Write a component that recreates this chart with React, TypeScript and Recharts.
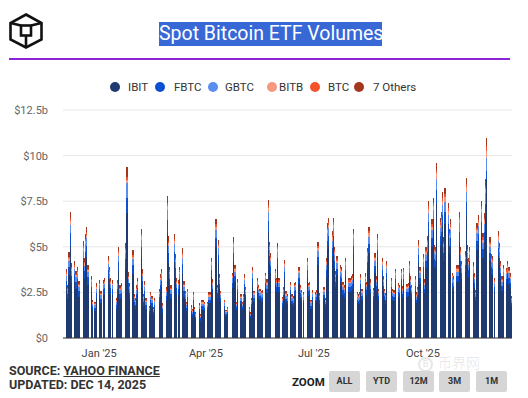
import { BarChart, Bar, XAxis, YAxis, CartesianGrid } from 'recharts';

// daily volumes in $b, one value per trading day (Dec 2 2024 .. Dec 12 2025)
const ibit = [
  2.77, 2.12, 3.43, 5.04, 2.99, 3.07, 2.70, 2.85, 2.26, 2.26,
  3.87, 3.21, 4.16, 4.45, 2.92, 2.48, 1.53, 1.46, 2.19, 2.34,
  1.90, 2.34, 2.41, 3.29, 2.85, 2.41, 2.34, 1.61, 2.34, 3.65,
  2.12, 2.19, 3.80, 6.86, 2.63, 2.19, 3.50, 1.75, 1.61, 2.12,
  2.41, 4.38, 2.74, 1.75, 2.26, 1.61, 1.28, 1.83, 1.68, 1.24,
  1.61, 1.97, 2.56, 2.77, 1.39, 2.04, 5.69, 4.09, 2.85, 2.12,
  4.16, 3.36, 2.41, 2.34, 2.85, 3.58, 2.26, 1.90, 1.46, 1.97,
  1.31, 1.17, 1.83, 1.24, 1.02, 1.39, 0.95, 1.53, 1.53, 1.46,
  1.53, 1.91, 1.91, 3.37, 2.45, 4.97, 2.22, 4.13, 2.68, 1.99,
  1.61, 1.19, 1.19, 1.30, 2.75, 4.21, 3.06, 1.53, 2.45, 1.84,
  1.53, 1.84, 2.68, 2.14, 1.30, 1.07, 1.68, 2.98, 1.99, 2.52,
  2.22, 2.07, 1.99, 2.03, 2.75, 2.45, 5.81, 4.05, 3.56, 2.91,
  2.52, 3.98, 2.52, 1.72, 2.14, 3.29, 1.95, 1.84, 2.37, 1.84,
  1.76, 2.33, 2.37, 2.98, 2.22, 2.03, 1.91, 3.37, 2.33, 2.37,
  1.61, 2.03, 1.91, 2.03, 4.02, 1.87, 2.14, 1.68, 3.37, 4.82,
  5.05, 4.48, 5.05, 3.83, 2.79, 3.44, 3.06, 2.98, 2.37, 2.22,
  3.37, 2.52, 2.52, 2.60, 2.68, 4.59, 1.91, 1.84, 1.91, 2.68,
  2.07, 2.72, 2.37, 3.79, 4.67, 2.45, 2.10, 3.56, 2.60, 4.36,
  2.07, 3.37, 2.60, 2.07, 1.87, 3.21, 2.52, 2.07, 2.03, 2.91,
  2.30, 2.22, 2.91, 2.18, 2.95, 2.26, 2.30, 3.21, 2.60, 2.22,
  2.60, 1.91, 2.14, 4.13, 2.98, 3.52, 2.45, 3.83, 4.28, 5.74,
  4.97, 5.89, 3.90, 3.83, 7.34, 5.05, 5.28, 6.12, 4.21, 6.27,
  5.66, 4.59, 4.97, 2.75, 2.60, 3.06, 3.06, 5.28, 3.83, 3.21,
  3.63, 6.73, 3.90, 3.37, 3.83, 3.17, 2.72, 2.03, 4.82, 5.16,
  5.74, 4.40, 5.24, 6.66, 8.68, 4.21, 3.52, 3.44, 2.52, 4.48,
  3.98, 3.21, 2.60, 3.06, 2.95, 3.21, 2.98, 2.72, 1.76,
];
const fbtc = [
  .38, .29, .47, .69, .41, .42, .37, .39, .31, .31,
  .53, .44, .57, .61, .40, .34, .21, .20, .30, .32,
  .26, .32, .33, .45, .39, .33, .32, .22, .32, .50,
  .29, .30, .52, .82, .36, .30, .48, .24, .22, .29,
  .33, .60, .38, .24, .31, .22, .18, .25, .23, .17,
  .22, .27, .35, .38, .19, .28, .78, .56, .39, .29,
  .57, .46, .33, .32, .39, .49, .31, .26, .20, .27,
  .18, .16, .25, .17, .14, .19, .13, .21, .21, .20,
  .16, .20, .20, .35, .26, .52, .23, .43, .28, .21,
  .17, .12, .12, .14, .29, .44, .32, .16, .26, .19,
  .16, .19, .28, .22, .14, .11, .18, .31, .21, .26,
  .23, .22, .21, .21, .29, .26, .61, .42, .37, .30,
  .26, .42, .26, .18, .22, .34, .20, .19, .25, .19,
  .18, .24, .25, .31, .23, .21, .20, .35, .24, .25,
  .17, .21, .20, .21, .42, .20, .22, .18, .35, .50,
  .53, .47, .53, .40, .29, .36, .32, .31, .25, .23,
  .35, .26, .26, .27, .28, .48, .20, .19, .20, .28,
  .22, .28, .25, .40, .49, .26, .22, .37, .27, .46,
  .22, .35, .27, .22, .20, .34, .26, .22, .21, .30,
  .24, .23, .30, .23, .31, .24, .24, .34, .27, .23,
  .27, .20, .22, .43, .31, .37, .26, .40, .45, .60,
  .52, .62, .41, .40, .77, .53, .55, .64, .44, .66,
  .59, .48, .52, .29, .27, .32, .32, .55, .40, .34,
  .38, .70, .41, .35, .40, .33, .28, .21, .50, .54,
  .60, .46, .55, .70, .46, .44, .37, .36, .26, .47,
  .42, .34, .27, .32, .31, .34, .31, .28, .18,
];
const gbtc = [
  .27, .20, .33, .48, .29, .29, .26, .27, .22, .22,
  .37, .31, .40, .43, .28, .24, .15, .14, .21, .22,
  .18, .22, .23, .32, .27, .23, .22, .15, .22, .35,
  .20, .21, .36, .80, .25, .21, .34, .17, .15, .20,
  .23, .42, .26, .17, .22, .15, .12, .18, .16, .12,
  .15, .19, .25, .27, .13, .20, .55, .39, .27, .20,
  .40, .32, .23, .22, .27, .34, .22, .18, .14, .19,
  .13, .11, .18, .12, .10, .13, .09, .15, .15, .14,
  .13, .16, .16, .29, .21, .42, .19, .35, .23, .17,
  .14, .10, .10, .11, .23, .36, .26, .13, .21, .16,
  .13, .16, .23, .18, .11, .09, .14, .25, .17, .21,
  .19, .18, .17, .17, .23, .21, .49, .34, .30, .25,
  .21, .34, .21, .15, .18, .28, .17, .16, .20, .16,
  .15, .20, .20, .25, .19, .17, .16, .29, .20, .20,
  .14, .17, .16, .17, .34, .16, .18, .14, .29, .41,
  .43, .38, .43, .33, .24, .29, .26, .25, .20, .19,
  .29, .21, .21, .22, .23, .39, .16, .16, .16, .23,
  .18, .23, .20, .32, .40, .21, .18, .30, .22, .37,
  .18, .29, .22, .18, .16, .27, .21, .18, .17, .25,
  .20, .19, .25, .19, .25, .19, .20, .27, .22, .19,
  .22, .16, .18, .35, .25, .30, .21, .33, .36, .49,
  .42, .50, .33, .33, .62, .43, .45, .52, .36, .53,
  .48, .39, .42, .23, .22, .26, .26, .45, .33, .27,
  .31, .57, .33, .29, .33, .27, .23, .17, .41, .44,
  .49, .37, .45, .57, .73, .36, .30, .29, .21, .38,
  .34, .27, .22, .26, .25, .27, .25, .23, .15,
];
const bitb = [
  .11, .09, .14, .21, .12, .13, .11, .12, .09, .09,
  .16, .13, .17, .18, .12, .10, .06, .06, .09, .10,
  .08, .10, .10, .14, .12, .10, .10, .07, .10, .15,
  .09, .09, .16, .20, .11, .09, .14, .07, .07, .09,
  .10, .18, .11, .07, .09, .07, .05, .08, .07, .05,
  .07, .08, .11, .11, .06, .08, .23, .17, .12, .09,
  .17, .14, .10, .10, .12, .15, .09, .08, .06, .08,
  .05, .05, .08, .05, .04, .06, .04, .06, .06, .06,
  .06, .08, .08, .13, .10, .20, .09, .16, .11, .08,
  .06, .05, .05, .05, .11, .17, .12, .06, .10, .07,
  .06, .07, .11, .08, .05, .04, .07, .12, .08, .10,
  .09, .08, .08, .08, .11, .10, .23, .16, .14, .11,
  .10, .16, .10, .07, .08, .13, .08, .07, .09, .07,
  .07, .09, .09, .12, .09, .08, .08, .13, .09, .09,
  .06, .08, .08, .08, .16, .07, .08, .07, .13, .19,
  .20, .18, .20, .15, .11, .14, .12, .12, .09, .09,
  .13, .10, .10, .10, .11, .18, .08, .07, .08, .11,
  .08, .11, .09, .15, .18, .10, .08, .14, .10, .17,
  .08, .13, .10, .08, .07, .13, .10, .08, .08, .11,
  .09, .09, .11, .09, .12, .09, .09, .13, .10, .09,
  .10, .08, .08, .16, .12, .14, .10, .15, .17, .23,
  .20, .23, .15, .15, .29, .20, .21, .24, .17, .25,
  .22, .18, .20, .11, .10, .12, .12, .21, .15, .13,
  .14, .26, .15, .13, .15, .12, .11, .08, .19, .20,
  .23, .17, .21, .26, .37, .17, .14, .14, .10, .18,
  .16, .13, .10, .12, .12, .13, .12, .11, .07,
];
const btc = [
  .08, .06, .09, .14, .08, .08, .07, .08, .06, .06,
  .11, .09, .11, .12, .08, .07, .04, .04, .06, .06,
  .05, .06, .07, .09, .08, .07, .06, .04, .06, .10,
  .06, .06, .10, .17, .07, .06, .10, .05, .04, .06,
  .07, .12, .08, .05, .06, .04, .04, .05, .05, .03,
  .04, .05, .07, .08, .04, .06, .16, .11, .08, .06,
  .11, .09, .07, .06, .08, .10, .06, .05, .04, .05,
  .04, .03, .05, .03, .03, .04, .03, .04, .04, .04,
  .04, .05, .05, .09, .06, .13, .06, .11, .07, .05,
  .04, .03, .03, .03, .07, .11, .08, .04, .06, .05,
  .04, .05, .07, .06, .03, .03, .04, .08, .05, .07,
  .06, .05, .05, .05, .07, .06, .15, .11, .09, .08,
  .07, .10, .07, .05, .06, .09, .05, .05, .06, .05,
  .05, .06, .06, .08, .06, .05, .05, .09, .06, .06,
  .04, .05, .05, .05, .11, .05, .06, .04, .09, .13,
  .13, .12, .13, .10, .07, .09, .08, .08, .06, .06,
  .09, .07, .07, .07, .07, .12, .05, .05, .05, .07,
  .05, .07, .06, .10, .12, .06, .06, .09, .07, .11,
  .05, .09, .07, .05, .05, .08, .07, .05, .05, .08,
  .06, .06, .08, .06, .08, .06, .06, .08, .07, .06,
  .07, .05, .06, .11, .08, .09, .06, .10, .11, .15,
  .13, .15, .10, .10, .19, .13, .14, .16, .11, .16,
  .15, .12, .13, .07, .07, .08, .08, .14, .10, .08,
  .10, .18, .10, .09, .10, .08, .07, .05, .13, .14,
  .15, .12, .14, .17, .27, .11, .09, .09, .07, .12,
  .10, .08, .07, .08, .08, .08, .08, .07, .05,
];
const others = [
  .19, .15, .24, .35, .21, .21, .19, .20, .16, .16,
  .27, .22, .29, .31, .20, .17, .11, .10, .15, .16,
  .13, .16, .17, .23, .20, .17, .16, .11, .16, .25,
  .15, .15, .26, .55, .18, .15, .24, .12, .11, .15,
  .17, .30, .19, .12, .16, .11, .09, .13, .12, .09,
  .11, .14, .18, .19, .10, .14, .39, .28, .20, .15,
  .29, .23, .17, .16, .20, .25, .16, .13, .10, .14,
  .09, .08, .13, .09, .07, .10, .07, .11, .11, .10,
  .08, .10, .10, .18, .13, .26, .12, .22, .14, .10,
  .08, .06, .06, .07, .14, .22, .16, .08, .13, .10,
  .08, .10, .14, .11, .07, .06, .09, .16, .10, .13,
  .12, .11, .10, .11, .14, .13, .30, .21, .19, .15,
  .13, .21, .13, .09, .11, .17, .10, .10, .12, .10,
  .09, .12, .12, .16, .12, .11, .10, .18, .12, .12,
  .08, .11, .10, .11, .21, .10, .11, .09, .18, .25,
  .26, .23, .26, .20, .15, .18, .16, .16, .12, .12,
  .18, .13, .13, .14, .14, .24, .10, .10, .10, .14,
  .11, .14, .12, .20, .24, .13, .11, .19, .14, .23,
  .11, .18, .14, .11, .10, .17, .13, .11, .11, .15,
  .12, .12, .15, .11, .15, .12, .12, .17, .14, .12,
  .14, .10, .11, .22, .16, .18, .13, .20, .22, .30,
  .26, .31, .20, .20, .38, .26, .28, .32, .22, .33,
  .30, .24, .26, .14, .14, .16, .16, .28, .20, .17,
  .19, .35, .20, .18, .20, .17, .14, .11, .25, .27,
  .30, .23, .27, .35, .46, .22, .18, .18, .13, .23,
  .21, .17, .14, .16, .15, .17, .16, .14, .09,
];

const seriesKeys = ['ibit', 'fbtc', 'gbtc', 'bitb', 'btc', 'others'];
const seriesNames = ['IBIT', 'FBTC', 'GBTC', 'BITB', 'BTC', '7 Others'];
const seriesColors = ['#1e3a70', '#0b50d0', '#5b8def', '#f8977f', '#f4522d', '#a3361c'];
const seriesValues = [ibit, fbtc, gbtc, bitb, btc, others];

const marketHolidays = [
  '2024-12-25', '2025-01-01', '2025-01-09', '2025-01-20', '2025-02-17', '2025-04-18',
  '2025-05-26', '2025-06-19', '2025-07-04', '2025-09-01', '2025-11-27',
];
const tickDates = ['2025-01-01', '2025-04-01', '2025-07-01', '2025-10-01'];
const tickLabels = ["Jan '25", "Apr '25", "Jul '25", "Oct '25"];
const yTicks = [0, 2.5, 5, 7.5, 10, 12.5];

const legendCircleX = [110, 155, 208, 267, 310, 354];
const legendTextX = [128, 174, 225, 279, 328, 373];
const zoomButtons = ['ALL', 'YTD', '12M', '3M', '1M'];
const zoomButtonX = [329, 366, 403, 439, 476];

// every calendar day is a slot so weekends and holidays leave gaps
const allDays: string[] = [];
const tradingDays: string[] = [];
for (let t = Date.UTC(2024, 11, 2); t <= Date.UTC(2025, 11, 12); t += 86400000) {
  const key = new Date(t).toISOString().slice(0, 10);
  allDays.push(key);
  const wd = new Date(t).getUTCDay();
  if (wd !== 0 && wd !== 6 && !marketHolidays.includes(key)) tradingDays.push(key);
}

const data = allDays.map((date) => {
  const i = tradingDays.indexOf(date);
  const row: Record<string, any> = { date };
  seriesKeys.forEach((k, s) => {
    row[k] = i >= 0 ? seriesValues[s][i] : 0;
  });
  return row;
});

const font = 'Roboto, "Open Sans", sans-serif';

const Logo = () => (
  <svg width={34} height={36} viewBox="0 0 34 36" style={{ position: 'absolute', left: 9, top: 13 }}>
    <g fill="none" stroke="#111" strokeWidth={2.6} strokeLinejoin="miter">
      <polygon points="17,1.5 32.5,10 32.5,26.5 17,34.5 1.5,26.5 1.5,10" />
      <rect x={12} y={12.5} width={10} height={10} />
      <line x1={1.5} y1={10} x2={12} y2={12.5} />
      <line x1={32.5} y1={10} x2={22} y2={12.5} />
      <line x1={17} y1={34.5} x2={17} y2={22.5} />
    </g>
  </svg>
);

export default function App() {
  return (
    <div style={{ position: 'absolute', left: 0, top: 0, width: 528, height: 398, background: '#fff', fontFamily: font, overflow: 'hidden' }}>
      <style>{'.recharts-bar-rectangle path { shape-rendering: crispEdges; }'}</style>
      <BarChart
        width={528}
        height={398}
        data={data}
        margin={{ top: 110, right: 16, bottom: 38, left: 0 }}
        barCategoryGap={0}
        barGap={0}
        barSize={1.18}
        style={{ position: 'absolute', left: 0, top: 0 }}
      >
        <CartesianGrid vertical={false} stroke="#e6e6e6" />
        <XAxis
          dataKey="date"
          ticks={tickDates}
          interval={0}
          tickFormatter={(v: string) => tickLabels[tickDates.indexOf(v)]}
          tickLine={false}
          axisLine={{ stroke: '#333' }}
          tick={{ fontSize: 11, fill: '#444', fontFamily: font, dx: -3 }}
          tickMargin={5}
          height={22}
          padding={{ left: 3, right: 0 }}
        />
        <YAxis
          domain={[0, 12.5]}
          ticks={yTicks}
          width={63}
          axisLine={false}
          tickLine={false}
          tickMargin={9}
          tick={{ fontSize: 11, fill: '#666', fontFamily: font }}
          tickFormatter={(v: number) => (v === 0 ? '$0' : `$${v}b`)}
        />
        {seriesKeys.map((k, s) => (
          <Bar key={k} dataKey={k} name={seriesNames[s]} stackId="vol" fill={seriesColors[s]} isAnimationActive={false} />
        ))}
      </BarChart>

      <Logo />
      <div style={{ position: 'absolute', left: 159, top: 22, width: 223, height: 24, background: '#3867d6', color: '#fff', fontSize: 19.5, lineHeight: '24px', textAlign: 'center', whiteSpace: 'nowrap' }}>
        Spot Bitcoin ETF Volumes
      </div>
      <div style={{ position: 'absolute', left: 9, top: 58, width: 501, height: 2, background: '#8e24d8' }} />

      {seriesNames.map((n, s) => (
        <div key={n}>
          <div style={{ position: 'absolute', left: legendCircleX[s], top: 82, width: 10, height: 10, borderRadius: 5, background: seriesColors[s] }} />
          <div style={{ position: 'absolute', left: legendTextX[s], top: 80, fontSize: 11.5, lineHeight: '14px', color: '#333' }}>{n}</div>
        </div>
      ))}

      <div style={{ position: 'absolute', left: 9, top: 363, fontSize: 12.5, fontWeight: 700, color: '#333', lineHeight: '15px', whiteSpace: 'nowrap' }}>
        SOURCE: <span style={{ textDecoration: 'underline' }}>YAHOO FINANCE</span>
      </div>
      <div style={{ position: 'absolute', left: 9, top: 377, fontSize: 12.5, fontWeight: 700, color: '#333', lineHeight: '15px', whiteSpace: 'nowrap' }}>
        UPDATED: DEC 14, 2025
      </div>

      <div style={{ position: 'absolute', left: 418, top: 354, fontSize: 14, color: 'rgba(0,0,0,0.1)', fontFamily: '"Noto Sans CJK SC", sans-serif', lineHeight: '16px', whiteSpace: 'nowrap' }}>
        <span style={{ display: 'inline-block', width: 15, height: 15, borderRadius: 8, border: '2px solid rgba(0,0,0,0.1)', boxSizing: 'border-box', fontSize: 9, lineHeight: '11px', textAlign: 'center', fontFamily: font, fontWeight: 700, verticalAlign: 'middle', marginRight: 5 }}>B</span>
        币界网
      </div>

      <div style={{ position: 'absolute', left: 292, top: 375, fontSize: 11.5, fontWeight: 700, color: '#222', lineHeight: '14px' }}>ZOOM</div>
      {zoomButtons.map((b, i) => (
        <div key={b} style={{ position: 'absolute', left: zoomButtonX[i], top: 371, width: 31, height: 21, background: '#d6d6d6', borderRadius: 2, fontSize: 9, fontWeight: 700, color: '#333', lineHeight: '21px', textAlign: 'center' }}>
          {b}
        </div>
      ))}
    </div>
  );
}
